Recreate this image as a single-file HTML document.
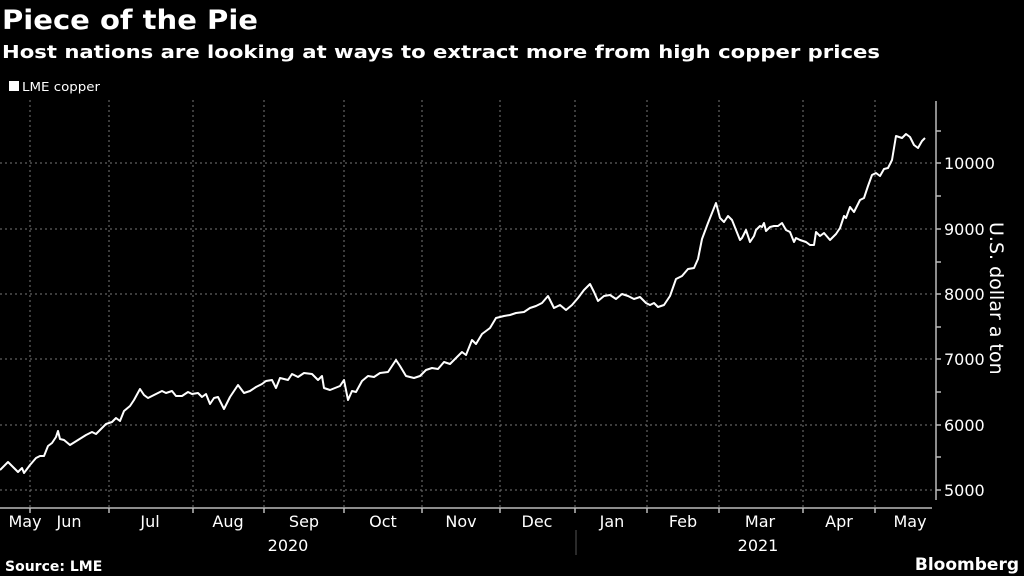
<!DOCTYPE html>
<html><head><meta charset="utf-8"><style>
html,body{margin:0;padding:0;background:#000;}
svg{display:block;}
text{fill:#fff;}
</style></head><body>
<svg width="1024" height="576" viewBox="0 0 1024 576" xmlns="http://www.w3.org/2000/svg">
<rect width="1024" height="576" fill="#000"/>
<text x="2" y="29" font-family="DejaVu Sans, Liberation Sans, sans-serif" font-weight="bold" font-size="27" textLength="256" lengthAdjust="spacingAndGlyphs">Piece of the Pie</text>
<text x="2" y="58" font-family="DejaVu Sans, Liberation Sans, sans-serif" font-weight="bold" font-size="18" textLength="878" lengthAdjust="spacingAndGlyphs">Host nations are looking at ways to extract more from high copper prices</text>
<rect x="9" y="81" width="10" height="10" fill="#fff"/>
<text x="22" y="91" font-family="DejaVu Sans, Liberation Sans, sans-serif" font-size="12" textLength="78" lengthAdjust="spacingAndGlyphs">LME copper</text>
<g stroke="#777" stroke-width="1" stroke-dasharray="2,3" fill="none">
<line x1="0" y1="163" x2="932" y2="163"/>
<line x1="0" y1="229" x2="932" y2="229"/>
<line x1="0" y1="294" x2="932" y2="294"/>
<line x1="0" y1="359" x2="932" y2="359"/>
<line x1="0" y1="425" x2="932" y2="425"/>
<line x1="0" y1="490" x2="932" y2="490"/>
<line x1="30" y1="100" x2="30" y2="508"/>
<line x1="109" y1="100" x2="109" y2="508"/>
<line x1="193" y1="100" x2="193" y2="508"/>
<line x1="264" y1="100" x2="264" y2="508"/>
<line x1="344" y1="100" x2="344" y2="508"/>
<line x1="422" y1="100" x2="422" y2="508"/>
<line x1="500" y1="100" x2="500" y2="508"/>
<line x1="575" y1="100" x2="575" y2="508"/>
<line x1="647" y1="100" x2="647" y2="508"/>
<line x1="719" y1="100" x2="719" y2="508"/>
<line x1="803" y1="100" x2="803" y2="508"/>
<line x1="875" y1="100" x2="875" y2="508"/>
</g>
<g stroke="#bbb" stroke-width="1.5">
<line x1="0" y1="508" x2="932" y2="508"/>
<line x1="936" y1="101" x2="936" y2="500"/>
<line x1="936" y1="131" x2="941" y2="131"/>
<line x1="936" y1="163" x2="941" y2="163"/>
<line x1="936" y1="196" x2="941" y2="196"/>
<line x1="936" y1="229" x2="941" y2="229"/>
<line x1="936" y1="262" x2="941" y2="262"/>
<line x1="936" y1="294" x2="941" y2="294"/>
<line x1="936" y1="327" x2="941" y2="327"/>
<line x1="936" y1="359" x2="941" y2="359"/>
<line x1="936" y1="392" x2="941" y2="392"/>
<line x1="936" y1="425" x2="941" y2="425"/>
<line x1="936" y1="457" x2="941" y2="457"/>
<line x1="936" y1="490" x2="941" y2="490"/>
<line x1="30" y1="508" x2="30" y2="513"/><line x1="109" y1="508" x2="109" y2="513"/><line x1="193" y1="508" x2="193" y2="513"/><line x1="264" y1="508" x2="264" y2="513"/><line x1="344" y1="508" x2="344" y2="513"/><line x1="422" y1="508" x2="422" y2="513"/><line x1="500" y1="508" x2="500" y2="513"/><line x1="575" y1="508" x2="575" y2="513"/><line x1="647" y1="508" x2="647" y2="513"/><line x1="719" y1="508" x2="719" y2="513"/><line x1="803" y1="508" x2="803" y2="513"/><line x1="875" y1="508" x2="875" y2="513"/>
</g>
<line x1="576" y1="530" x2="576" y2="555" stroke="#555" stroke-width="1"/>
<g font-family="DejaVu Sans, Liberation Sans, sans-serif" font-size="16">
<text x="944" y="169">10000</text>
<text x="944" y="235">9000</text>
<text x="944" y="300">8000</text>
<text x="944" y="365">7000</text>
<text x="944" y="431">6000</text>
<text x="944" y="496">5000</text>
</g>
<text transform="translate(990,222) rotate(90)" font-family="DejaVu Sans, Liberation Sans, sans-serif" font-size="19">U.S. dollar a ton</text>
<g font-family="DejaVu Sans, Liberation Sans, sans-serif" font-size="16" text-anchor="middle">
<text x="25" y="527">May</text>
<text x="69" y="527">Jun</text>
<text x="150" y="527">Jul</text>
<text x="228" y="527">Aug</text>
<text x="304" y="527">Sep</text>
<text x="383" y="527">Oct</text>
<text x="461" y="527">Nov</text>
<text x="537" y="527">Dec</text>
<text x="612" y="527">Jan</text>
<text x="683" y="527">Feb</text>
<text x="760" y="527">Mar</text>
<text x="839" y="527">Apr</text>
<text x="910" y="527">May</text>
<text x="288" y="551">2020</text>
<text x="758" y="551">2021</text>
</g>
<text x="5" y="571" font-family="DejaVu Sans, Liberation Sans, sans-serif" font-weight="bold" font-size="14">Source: LME</text>
<text x="1019" y="570" text-anchor="end" font-family="DejaVu Sans, Liberation Sans, sans-serif" font-weight="bold" font-size="17">Bloomberg</text>
<polyline fill="none" stroke="#fff" stroke-width="2" stroke-linejoin="round" points="0,470 8,462 14,468 18,472 22,468 24,473 30,465 36,458 40,456 44,456 48,446 52,443 56,437 58,431 60,439 64,440 70,445 78,440 86,435 92,432 96,434 100,430 106,424 112,422 116,418 120,421 124,411 130,406 134,400 140,389 144,395 148,398 154,395 162,391 166,393 172,391 176,396 182,396 188,392 192,394 198,393 202,397 206,394 210,404 214,398 218,397 220,401 224,409 230,397 238,385 244,393 250,391 256,387 262,384 266,381 272,380 276,388 280,378 288,380 292,374 298,377 304,373 312,374 318,380 322,376 324,388 330,390 340,386 344,380 348,400 352,391 356,392 362,381 368,376 374,377 380,373 388,372 396,360 400,366 406,376 414,378 420,376 426,370 432,368 438,369 444,362 450,364 458,356 462,352 466,355 472,340 476,344 482,334 490,328 496,318 504,316 510,315 516,313 524,312 530,308 536,306 542,303 548,296 554,308 560,305 566,310 572,305 578,298 584,290 590,284 594,292 598,301 604,296 610,295 616,299 622,294 628,296 634,299 640,297 646,303 650,305 654,303 658,307 664,305 670,296 676,279 682,276 688,269 694,268 698,259 702,239 708,223 712,213 716,203 720,218 724,222 728,216 732,220 736,230 740,240 742,238 746,230 750,242 754,236 756,230 760,226 762,227 764,223 766,231 770,227 774,226 778,226 782,223 786,230 790,232 794,242 796,238 800,240 806,242 810,245 814,245 816,232 820,236 824,233 830,240 836,234 840,228 844,216 846,218 850,207 854,212 860,200 864,198 868,186 872,175 876,173 880,176 884,169 888,168 892,160 896,136 902,138 906,134 910,137 914,145 918,148 922,141 925,138"/>
</svg>
</body></html>
